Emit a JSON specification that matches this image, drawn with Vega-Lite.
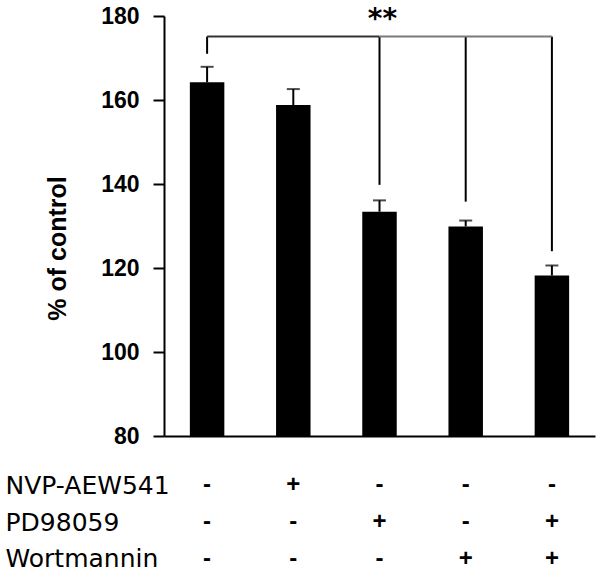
{
  "$schema": "https://vega.github.io/schema/vega-lite/v6.json",
  "padding": {"left": 5, "top": 5, "right": 5, "bottom": 0},
  "background": "white",
  "config": {
    "view": {"stroke": null},
    "axis": {"grid": false, "domainColor": "black", "tickColor": "black", "labelColor": "black", "titleColor": "black"}
  },
  "datasets": {
    "bars": [
      {"cond": "c1", "value": 164.2, "upper": 167.9},
      {"cond": "c2", "value": 158.8, "upper": 162.6},
      {"cond": "c3", "value": 133.4, "upper": 136.1},
      {"cond": "c4", "value": 129.9, "upper": 131.3},
      {"cond": "c5", "value": 118.2, "upper": 120.6}
    ],
    "drops": [
      {"cond": "c1", "top": 175.1, "end": 171.0},
      {"cond": "c3", "top": 175.1, "end": 139.8},
      {"cond": "c4", "top": 175.1, "end": 135.8},
      {"cond": "c5", "top": 175.1, "end": 124.0}
    ],
    "spans": [
      {"seg": 1, "from": "c1", "to": "c3", "y": 175.1},
      {"seg": 2, "from": "c3", "to": "c5", "y": 175.1}
    ],
    "sig": [{"cond": "c3", "y": 177.2, "label": "**"}],
    "table": [
      {"drug": "NVP-AEW541", "cond": "c1", "sign": "-"},
      {"drug": "NVP-AEW541", "cond": "c2", "sign": "+"},
      {"drug": "NVP-AEW541", "cond": "c3", "sign": "-"},
      {"drug": "NVP-AEW541", "cond": "c4", "sign": "-"},
      {"drug": "NVP-AEW541", "cond": "c5", "sign": "-"},
      {"drug": "PD98059", "cond": "c1", "sign": "-"},
      {"drug": "PD98059", "cond": "c2", "sign": "-"},
      {"drug": "PD98059", "cond": "c3", "sign": "+"},
      {"drug": "PD98059", "cond": "c4", "sign": "-"},
      {"drug": "PD98059", "cond": "c5", "sign": "+"},
      {"drug": "Wortmannin", "cond": "c1", "sign": "-"},
      {"drug": "Wortmannin", "cond": "c2", "sign": "-"},
      {"drug": "Wortmannin", "cond": "c3", "sign": "-"},
      {"drug": "Wortmannin", "cond": "c4", "sign": "+"},
      {"drug": "Wortmannin", "cond": "c5", "sign": "+"}
    ]
  },
  "spacing": 19,
  "vconcat": [
    {
      "width": 431,
      "height": 420,
      "encoding": {
        "x": {"field": "cond", "type": "nominal",
              "scale": {"domain": ["c1", "c2", "c3", "c4", "c5"], "paddingInner": 0.6, "paddingOuter": 0.3},
              "axis": {"labels": false, "ticks": false, "title": null, "domainWidth": 2}}
      },
      "layer": [
        {
          "data": {"name": "bars"},
          "mark": {"type": "bar", "color": "black"},
          "encoding": {
            "y": {"field": "value", "type": "quantitative",
                  "scale": {"domain": [80, 180], "zero": false, "nice": false},
                  "axis": {"values": [80, 100, 120, 140, 160, 180], "title": "% of control",
                           "domainWidth": 2, "tickWidth": 2, "tickSize": 11,
                           "labelFont": "Liberation Sans", "labelFontWeight": "bold", "labelFontSize": 23, "labelPadding": 14,
                           "titleFont": "Liberation Sans", "titleFontWeight": "bold", "titleFontSize": 25,
                           "titlePadding": 30, "titleY": 232}},
            "y2": {"datum": 80}
          }
        },
        {
          "data": {"name": "bars"},
          "mark": {"type": "rule", "color": "black", "strokeWidth": 2},
          "encoding": {
            "y": {"field": "value", "type": "quantitative"},
            "y2": {"field": "upper"}
          }
        },
        {
          "data": {"name": "bars"},
          "mark": {"type": "tick", "color": "black", "thickness": 2, "size": 13, "orient": "horizontal"},
          "encoding": {
            "y": {"field": "upper", "type": "quantitative"}
          }
        },
        {
          "data": {"name": "drops"},
          "mark": {"type": "rule", "color": "black", "strokeWidth": 2},
          "encoding": {
            "y": {"field": "top", "type": "quantitative"},
            "y2": {"field": "end"}
          }
        },
        {
          "data": {"name": "spans"},
          "transform": [{"filter": "datum.seg == 1"}],
          "mark": {"type": "rule", "color": "#333333", "strokeWidth": 2},
          "encoding": {
            "x": {"field": "from", "type": "nominal"},
            "x2": {"field": "to"},
            "y": {"field": "y", "type": "quantitative"}
          }
        },
        {
          "data": {"name": "spans"},
          "transform": [{"filter": "datum.seg == 2"}],
          "mark": {"type": "rule", "color": "#7a7a7a", "strokeWidth": 2},
          "encoding": {
            "x": {"field": "from", "type": "nominal"},
            "x2": {"field": "to"},
            "y": {"field": "y", "type": "quantitative"}
          }
        },
        {
          "data": {"name": "sig"},
          "mark": {"type": "text", "font": "DejaVu Sans", "fontWeight": "bold", "fontSize": 28, "baseline": "alphabetic", "dx": 3, "color": "black"},
          "encoding": {
            "y": {"field": "y", "type": "quantitative"},
            "text": {"field": "label"}
          }
        }
      ]
    },
    {
      "width": 431,
      "height": 110,
      "data": {"name": "table"},
      "mark": {"type": "text", "font": "Liberation Sans", "fontWeight": "bold", "fontSize": 24, "baseline": "middle", "color": "black"},
      "encoding": {
        "x": {"field": "cond", "type": "nominal",
              "scale": {"domain": ["c1", "c2", "c3", "c4", "c5"], "paddingInner": 0.6, "paddingOuter": 0.3},
              "axis": null},
        "y": {"field": "drug", "type": "nominal", "sort": ["NVP-AEW541", "PD98059", "Wortmannin"],
              "scale": {"paddingInner": 0, "paddingOuter": 0},
              "axis": {"title": null, "domain": false, "ticks": false, "labelAlign": "left", "labelPadding": 159,
                       "labelFont": "DejaVu Sans", "labelFontSize": 25, "labelBaseline": "middle"}},
        "text": {"field": "sign"}
      }
    }
  ]
}
